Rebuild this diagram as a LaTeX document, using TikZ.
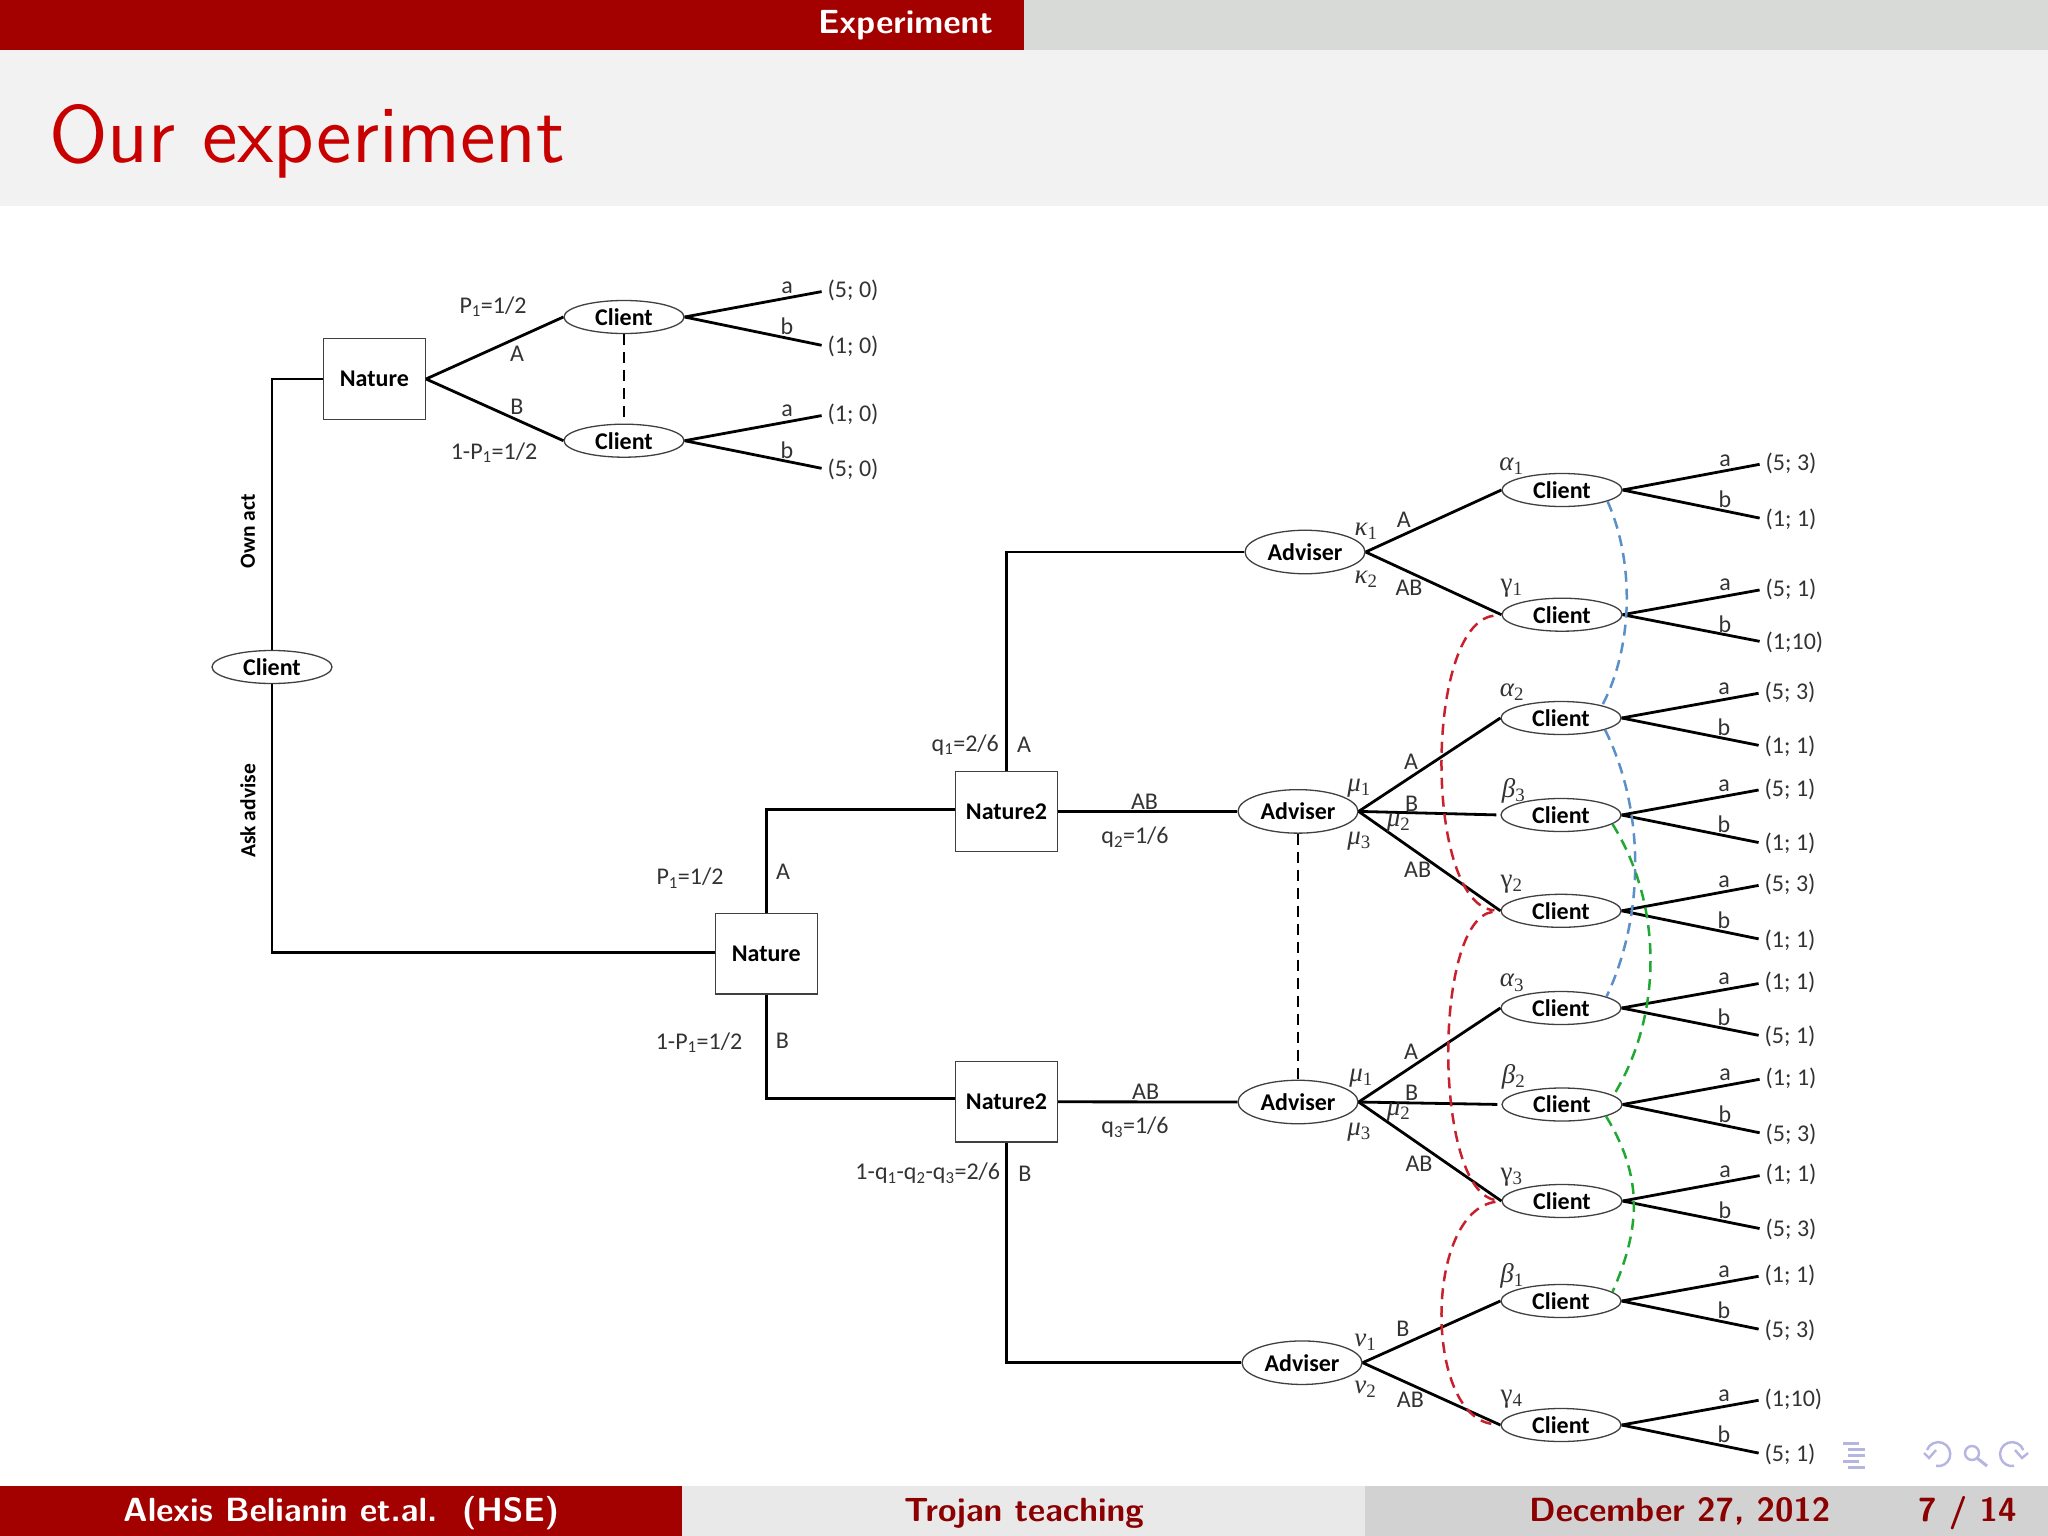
\documentclass[tikz,border=0pt]{standalone}
\usepackage{fix-cm}
\usepackage{graphicx}
\usepackage{fontspec}
\newfontfamily\figfont{Carlito}
\newfontfamily\grkfont{Liberation Serif}
\usetikzlibrary{shapes.geometric}
\definecolor{barred}{HTML}{A30000}
\definecolor{titlered}{HTML}{C80000}
\definecolor{titleband}{HTML}{F2F2F3}
\definecolor{barright}{HTML}{D8DAD8}
\definecolor{footmid}{HTML}{E9E9E9}
\definecolor{footright}{HTML}{D2D2D2}
\definecolor{footred}{HTML}{8B0000}
\definecolor{navlilac}{HTML}{B5B5E2}
\definecolor{txtgrey}{HTML}{333333}
\definecolor{curvered}{HTML}{C8202C}
\definecolor{curveblue}{HTML}{5B8FC8}
\definecolor{curvegreen}{HTML}{1FA832}
\newcommand{\figsize}{\fontsize{24}{26}\selectfont}
% belief label: italic greek letter, upright index
\newcommand{\blf}[2]{{\grkfont\fontsize{27}{29}\selectfont\itshape #1\textsubscript{\upshape #2}}}
\newcommand{\blfup}[2]{{\grkfont\fontsize{27}{29}\selectfont #1\textsubscript{#2}}}
\tikzset{
  client/.style={ellipse,draw=black!75,line width=1.3pt,fill=white,minimum width=120pt,minimum height=33pt,inner sep=0pt,font=\figfont\figsize\bfseries},
  adviser/.style={client,minimum height=43.5pt},
  box/.style={rectangle,draw=black!75,line width=1.3pt,fill=white,minimum width=102pt,minimum height=80.5pt,inner sep=0pt,font=\figfont\figsize\bfseries},
  lab/.style={inner sep=0pt,text=txtgrey,font=\figfont\figsize},
  pay/.style={lab,anchor=west},
  acts/.style={inner sep=0pt,text=black,rotate=90,font=\figfont\bfseries\fontsize{21.5}{24}\selectfont},
  branch/.style={line width=2.8pt,black},
  info/.style={line width=2.5pt,dash pattern=on 11pt off 7pt},
  foot/.style={inner sep=0pt,anchor=base west,font=\sffamily\bfseries\fontsize{33.5}{36}\selectfont},
  nav/.style={navlilac,line width=2.4pt}
}
\begin{document}
\begin{tikzpicture}[x=1pt,y=-1pt]
\useasboundingbox (0,0) rectangle (2048,1536);
% slide frame
\fill[white] (0,0) rectangle (2048,1536);
\fill[titleband] (0,50) rectangle (2048,206);
\fill[barred] (0,0) rectangle (1024,50);
\fill[barright] (1024,0) rectangle (2048,50);
\fill[barred] (0,1486) rectangle (682,1536);
\fill[footmid] (682,1486) rectangle (1365,1536);
\fill[footright] (1365,1486) rectangle (2048,1536);
\node[foot,text=white] (sect) at (818,34) {Experiment};
\node[inner sep=0pt,anchor=base west,text=titlered,font=\sffamily] (title) at (49,163) {\scalebox{5.8}{\fontsize{14}{16}\selectfont Our experiment}};
\node[foot,text=white] (fauth) at (123,1521) {Alexis Belianin et.al.\ \ (HSE)};
\node[foot,text=footred,anchor=base] (ftitle) at (1024,1521) {Trojan teaching};
\node[foot,text=footred] (fdate) at (1529,1521) {December 27, 2012};
\node[foot,text=footred] (fpage) at (1918,1521) {7 / 14};

% left tree
\node[client] (root) at (272,667) {Client};
\node[box] (nat1) at (374.4,379) {Nature};
\node[box] (nat2) at (766.3,953.8) {Nature};
\node[box] (n2a) at (1006.5,811.4) {Nature2};
\node[box] (n2b) at (1006.5,1101.8) {Nature2};
\node[adviser] (adv1) at (1305,552) {Adviser};
\node[adviser] (adv2) at (1298,811.4) {Adviser};
\node[adviser] (adv3) at (1298,1102) {Adviser};
\node[adviser] (adv4) at (1302,1362.7) {Adviser};

\draw[branch] (root.north) |- (nat1.west);
\draw[branch] (root.south) |- ([yshift=1pt]nat2.west);
\draw[branch] (nat2.north) |- ([yshift=2pt]n2a.west);
\draw[branch] (nat2.south) |- ([yshift=3pt]n2b.west);
\draw[branch] (n2a.north) |- (adv1.west);
\draw[branch] (n2b.south) |- (adv4.west);
\draw[branch] (n2a.east) -- (adv2.west);
\draw[branch] (n2b.east) -- (adv3.west);

% clients with their two moves: name/x/y/end a/end b/payoff a/payoff b
\foreach \n/\cx/\cy/\ya/\yb/\pa/\pb in {
  t1/624/317/289/345/5; 0/1; 0,
  t2/624/440.7/413/468/1; 0/5; 0,
  c1/1562/490/461.7/517.8/5; 3/1; 1,
  c2/1562/614.7/587.4/641/5; 1/1;10,
  c3/1561/718/690.7/745/5; 3/1; 1,
  c4/1561/815/787.4/842.2/5; 1/1; 1,
  c5/1561/910.8/882.8/938.6/5; 3/1; 1,
  c6/1561/1008/981/1035/1; 1/5; 1,
  c7/1562/1104.5/1076.7/1132.5/1; 1/5; 3,
  c8/1562/1201/1173/1228.2/1; 1/5; 3,
  c9/1561/1301/1273.7/1328.8/1; 1/5; 3,
  c10/1561/1425/1397.7/1452.8/1;10/5; 1}{
  \node[client] (\n) at (\cx,\cy) {Client};
  \node[pay] (pa\n) at (\cx+203.5,\ya+1.5) {(\pa)};
  \node[pay] (pb\n) at (\cx+203.5,\yb+1.5) {(\pb)};
  \node[lab] (la\n) at (\cx+163,\cy-29.5) {a};
  \node[lab] (lb\n) at (\cx+163,\cy+9.5) {b};
  \draw[branch,shorten >=6pt] (\n.east) -- (pa\n.west);
  \draw[branch,shorten >=6pt] (\n.east) -- (pb\n.west);
}

\draw[branch] (nat1.east) -- (t1.west);
\draw[branch] (nat1.east) -- (t2.west);
\draw[branch] (adv1.east) -- (c1.west);
\draw[branch] (adv1.east) -- (c2.west);
\draw[branch] (adv2.east) -- (c3.west);
\draw[branch,shorten >=4pt] (adv2.east) -- (c4.west);
\draw[branch] (adv2.east) -- (c5.west);
\draw[branch] (adv3.east) -- (c6.west);
\draw[branch,shorten >=4pt] (adv3.east) -- (c7.west);
\draw[branch] (adv3.east) -- (c8.west);
\draw[branch] (adv4.east) -- (c9.west);
\draw[branch] (adv4.east) -- (c10.west);

% information sets
\draw[info,black] (t1.south) -- (t2.north);
\draw[info,black] (adv2.south) -- (adv3.north);
\draw[info,curveblue] (c1.-14) .. controls (1634,560) and (1634,645) .. (c3.17);
\draw[info,curveblue] (c3.-15) .. controls (1645,810) and (1645,915) .. (c6.14);
\draw[info,curvegreen] (c4.-10) .. controls (1663,905) and (1663,1015) .. (c7.10);
\draw[info,curvegreen] (c7.-15) .. controls (1642,1175) and (1642,1225) .. (c9.10);
\draw[info,curvered,shorten <=8pt,shorten >=6pt] (c2.180) .. controls (1424,625) and (1424,905) .. (c5.180);
\draw[info,curvered,shorten <=8pt,shorten >=6pt] (c5.180) .. controls (1433,920) and (1433,1190) .. (c8.180);
\draw[info,curvered,shorten <=6pt,shorten >=8pt] (c8.180) .. controls (1424,1212) and (1424,1415) .. (c10.180);

% branch labels
\node[acts] (own) at (248,531) {Own act};
\node[acts] (ask) at (248,811) {Ask advise};
\node[lab] (l1) at (493,306.7) {P\textsubscript{1}=1/2};
\node[lab] (l2) at (494,452.7) {1-P\textsubscript{1}=1/2};
\node[lab] (l3) at (517,354) {A};
\node[lab] (l4) at (517,407) {B};
\node[lab] (l5) at (690,878.4) {P\textsubscript{1}=1/2};
\node[lab] (l6) at (783,872) {A};
\node[lab] (l7) at (699,1042.6) {1-P\textsubscript{1}=1/2};
\node[lab] (l8) at (782.4,1041) {B};
\node[lab] (l9) at (965.3,744.8) {q\textsubscript{1}=2/6};
\node[lab] (l10) at (1024,744.8) {A};
\node[lab] (l11) at (1144.5,801.6) {AB};
\node[lab] (l12) at (1135,837) {q\textsubscript{2}=1/6};
\node[lab] (l13) at (1145.7,1091.9) {AB};
\node[lab] (l14) at (1135,1127) {q\textsubscript{3}=1/6};
\node[lab] (l15) at (927.8,1173.5) {1-q\textsubscript{1}-q\textsubscript{2}-q\textsubscript{3}=2/6};
\node[lab] (l16) at (1025,1174) {B};
\node[lab] (l17) at (1403.7,519.5) {A};
\node[lab] (l18) at (1409,588) {AB};
\node[lab] (l19) at (1411,762) {A};
\node[lab] (l20) at (1411.7,804) {B};
\node[lab] (l21) at (1417.6,870) {AB};
\node[lab] (l22) at (1411,1051.6) {A};
\node[lab] (l23) at (1411.7,1093) {B};
\node[lab] (l24) at (1419,1163.5) {AB};
\node[lab] (l25) at (1403,1328.8) {B};
\node[lab] (l26) at (1410.4,1399.4) {AB};
% beliefs
\node[lab] (b1) at (1366,531) {\blf{κ}{1}};
\node[lab] (b2) at (1366,579) {\blf{κ}{2}};
\node[lab] (b3) at (1511.5,466) {\blf{α}{1}};
\node[lab] (b4) at (1511.5,587.7) {\blfup{γ}{1}};
\node[lab] (b5) at (1512,691.7) {\blf{α}{2}};
\node[lab] (b6) at (1359,788) {\blf{μ}{1}};
\node[lab] (b7) at (1398.6,823) {\blf{μ}{2}};
\node[lab] (b8) at (1359,841.5) {\blf{μ}{3}};
\node[lab] (b9) at (1513.5,791) {\blf{β}{3}};
\node[lab] (b10) at (1511.5,884.5) {\blfup{γ}{2}};
\node[lab] (b11) at (1512,982.7) {\blf{α}{3}};
\node[lab] (b12) at (1361,1078) {\blf{μ}{1}};
\node[lab] (b13) at (1398.6,1112.5) {\blf{μ}{2}};
\node[lab] (b14) at (1359,1132.5) {\blf{μ}{3}};
\node[lab] (b15) at (1513.5,1076.7) {\blf{β}{2}};
\node[lab] (b16) at (1511.5,1177) {\blfup{γ}{3}};
\node[lab] (b17) at (1512,1275.4) {\blf{β}{1}};
\node[lab] (b18) at (1365.4,1342.6) {\blf{ν}{1}};
\node[lab] (b19) at (1365.4,1389.7) {\blf{ν}{2}};
\node[lab] (b20) at (1511.5,1399.4) {\blfup{γ}{4}};

% navigation symbols
\draw[nav,line width=3pt] (1843,1443) -- ++(16,0) (1848,1449) -- ++(17,0) (1848,1455) -- ++(17,0) (1843,1461) -- ++(16,0) (1848,1467) -- ++(17,0);
\draw[nav] (1927,1450) arc (-160:100:12);
\draw[nav] (1924,1453) -- (1929,1458) -- (1936,1450);
\draw[nav] (1972,1453) circle (7);
\draw[nav,line width=3pt] (1977,1458) -- (1987,1466);
\draw[nav] (2023.3,1450) arc (-20:-280:12);
\draw[nav] (2028,1453) -- (2022,1458) -- (2015,1450);
\end{tikzpicture}
\end{document}
